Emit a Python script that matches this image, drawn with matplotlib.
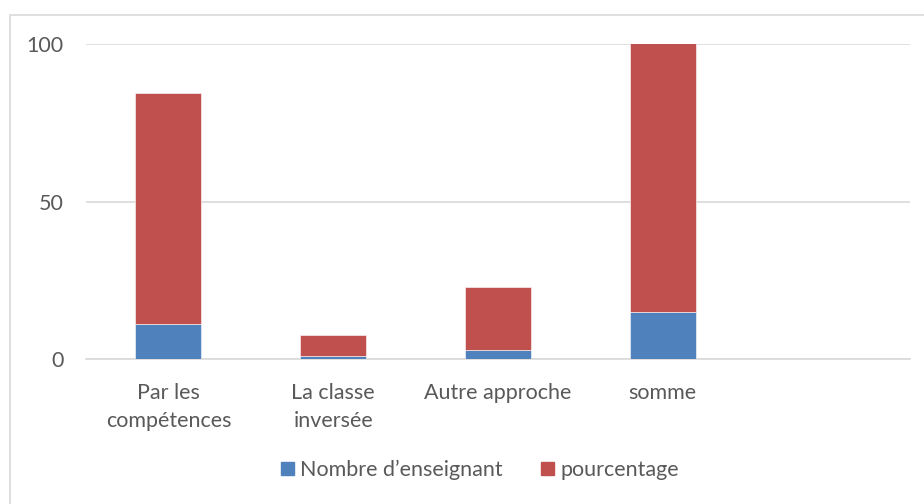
import numpy as np
import matplotlib.pyplot as plt
from matplotlib.patches import Rectangle, Patch

categories = ['Par les\ncompétences', 'La classe\ninversée', 'Autre approche', 'somme']
enseignants = [11, 1, 3, 15]
pourcentage = [73.33, 6.67, 20, 100]

plt.rcParams['font.family'] = ['Lato', 'DejaVu Sans']
text_color = '#595959'
blue = '#4f81bd'
red = '#c0504d'

fig = plt.figure(figsize=(9.24, 5.04), dpi=100)
ax = fig.add_axes([86 / 924, 1 - 359 / 504, (910 - 86) / 924, (359 - 44) / 504])

# outer chart frame
fig.patches.append(Rectangle((10 / 924, -0.05), 1.0, 1 - 15 / 504 + 0.05,
                             transform=fig.transFigure, fill=False,
                             edgecolor='#d9d9d9', linewidth=1.2))

x = np.arange(len(categories))
ax.bar(x, enseignants, width=0.4, color=blue, edgecolor='white', linewidth=0.4,
       label='Nombre d\u2019enseignant', zorder=3)
ax.bar(x, pourcentage, width=0.4, bottom=enseignants, color=red, edgecolor='white',
       linewidth=0.4, label='pourcentage', zorder=3)

ax.set_xlim(-0.5, 4.5)
ax.set_ylim(0, 100)
ax.set_yticks([0, 50, 100])
ax.set_xticks(x)
ax.set_xticklabels(categories, linespacing=1.55)
ax.tick_params(axis='both', length=0, labelsize=15.5, labelcolor=text_color)
ax.tick_params(axis='x', pad=17)
ax.tick_params(axis='y', pad=16)
ax.grid(axis='y', color='#d9d9d9', linewidth=1.2, zorder=0)
for s in ['top', 'right', 'left']:
    ax.spines[s].set_visible(False)
ax.spines['bottom'].set_color('#d9d9d9')
ax.spines['bottom'].set_linewidth(1.2)

handles = [Patch(color=blue), Patch(color=red)]
fig.legend(handles, ['Nombre d\u2019enseignant', 'pourcentage'], loc='center',
           bbox_to_anchor=(480 / 924, 1 - 470 / 504), ncol=2, frameon=False,
           fontsize=15.5, labelcolor=text_color, handlelength=0.6, handleheight=0.6,
           handletextpad=0.3, columnspacing=1.8)

fig.savefig('out.png', dpi=100)
